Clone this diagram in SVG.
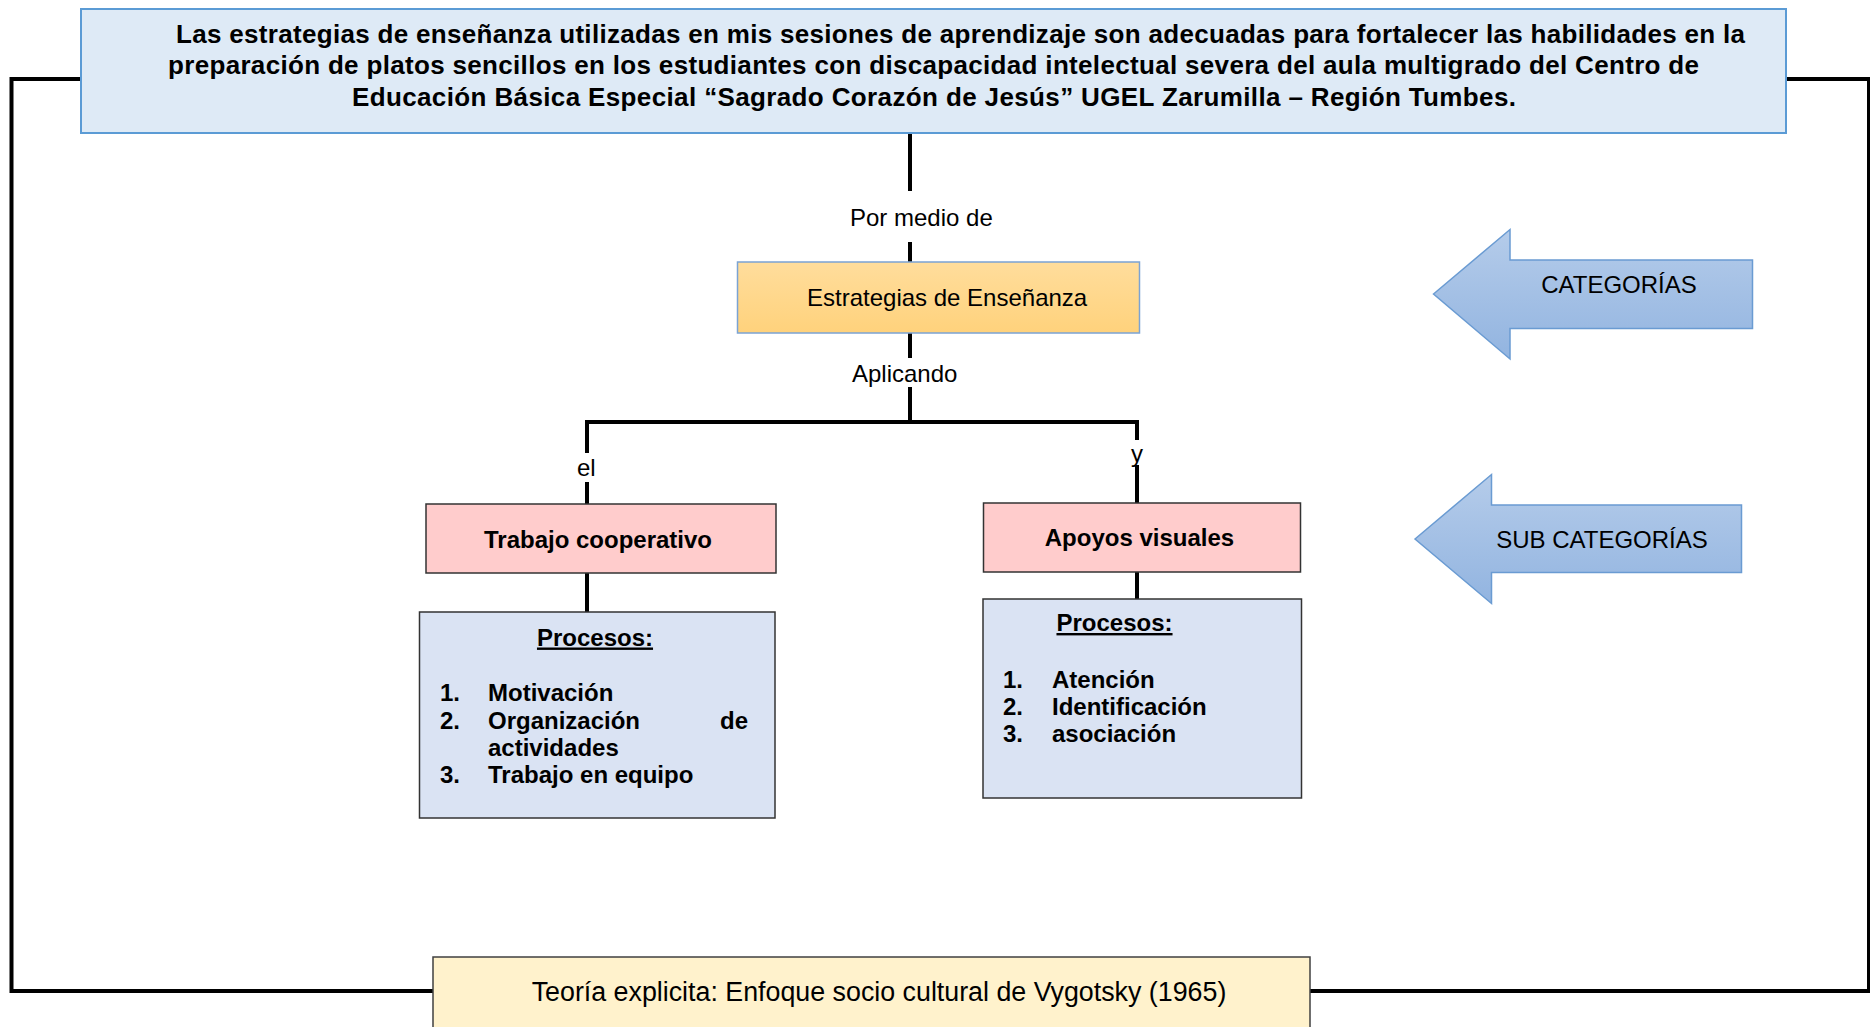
<svg xmlns="http://www.w3.org/2000/svg" width="1870" height="1027" viewBox="0 0 1870 1027">
<defs>
<linearGradient id="gOrange" x1="0" y1="0" x2="0" y2="1">
<stop offset="0" stop-color="#FFDD9C"/>
<stop offset="1" stop-color="#FFD27C"/>
</linearGradient>
<linearGradient id="gBlue" x1="0" y1="0" x2="0" y2="1">
<stop offset="0" stop-color="#B5CCEA"/>
<stop offset="1" stop-color="#92B4E0"/>
</linearGradient>
<style>
.t{font-family:"Liberation Sans",Arial,sans-serif;fill:#000}
.r{font-size:24px}
.b{font-size:24px;font-weight:bold}
.h{font-size:26px;font-weight:bold}
.u{text-decoration:underline}
.conn{stroke:#000;stroke-width:4;fill:none}
.pink{fill:#FFCCCC;stroke:#333;stroke-width:1.5}
.proc{fill:#DAE3F3;stroke:#333;stroke-width:1.5}
.arrow{fill:url(#gBlue);stroke:#6A9BD2;stroke-width:1.5}
</style>
</defs>
<rect width="1870" height="1027" fill="#fff"/>

<g id="connectors">
<path class="conn" d="M81,79 H11.5 V991 H433"/>
<path class="conn" d="M1786,79 H1869 V991 H1310"/>
<line class="conn" x1="910" y1="133" x2="910" y2="191"/>
<line class="conn" x1="910" y1="242" x2="910" y2="262"/>
<line class="conn" x1="910" y1="333" x2="910" y2="358"/>
<line class="conn" x1="910" y1="387" x2="910" y2="422"/>
<path class="conn" d="M587,453 V422 H1137 V440"/>
<line class="conn" x1="587" y1="482" x2="587" y2="504"/>
<line class="conn" x1="1137" y1="465" x2="1137" y2="503"/>
<line class="conn" x1="587" y1="573" x2="587" y2="612"/>
<line class="conn" x1="1137" y1="572" x2="1137" y2="599"/>
<text class="t r" x="850" y="226">Por medio de</text>
<text class="t r" x="852" y="382">Aplicando</text>
<text class="t r" x="577" y="476">el</text>
<text class="t r" x="1131" y="462">y</text>
</g>

<g id="title">
<rect x="81" y="9" width="1705" height="124" fill="#DEEAF6" stroke="#5B9BD5" stroke-width="2"/>
<text class="t h" x="176" y="43" textLength="1569">Las estrategias de enseñanza utilizadas en mis sesiones de aprendizaje son adecuadas para fortalecer las habilidades en la</text>
<text class="t h" x="168" y="74" textLength="1531">preparación de platos sencillos en los estudiantes con discapacidad intelectual severa del aula multigrado del Centro de</text>
<text class="t h" x="352" y="105.5" textLength="1164">Educación Básica Especial “Sagrado Corazón de Jesús” UGEL Zarumilla – Región Tumbes.</text>
</g>

<g id="estrategias">
<rect x="737.5" y="262" width="402" height="71" fill="url(#gOrange)" stroke="#7BA3D4" stroke-width="1.5"/>
<text class="t r" x="807" y="306">Estrategias de Enseñanza</text>
</g>

<g id="trabajo">
<rect class="pink" x="426" y="504" width="350" height="69"/>
<text class="t b" x="598" y="548" text-anchor="middle">Trabajo cooperativo</text>
</g>

<g id="apoyos">
<rect class="pink" x="983.5" y="503" width="317" height="69"/>
<text class="t b" x="1139.5" y="546" text-anchor="middle">Apoyos visuales</text>
</g>

<g id="procesos-trabajo">
<rect class="proc" x="419.5" y="612" width="355.5" height="206"/>
<text class="t b u" x="595" y="645.5" text-anchor="middle">Procesos:</text>
<text class="t b" x="440" y="700.5">1.</text>
<text class="t b" x="488" y="700.5">Motivación</text>
<text class="t b" x="440" y="728.5">2.</text>
<text class="t b" x="488" y="728.5">Organización</text>
<text class="t b" x="748" y="728.5" text-anchor="end">de</text>
<text class="t b" x="488" y="755.5">actividades</text>
<text class="t b" x="440" y="783">3.</text>
<text class="t b" x="488" y="783">Trabajo en equipo</text>
</g>

<g id="procesos-apoyos">
<rect class="proc" x="983" y="599" width="318.5" height="199"/>
<text class="t b u" x="1114.5" y="631" text-anchor="middle">Procesos:</text>
<text class="t b" x="1003" y="687.5">1.</text>
<text class="t b" x="1052" y="687.5">Atención</text>
<text class="t b" x="1003" y="714.5">2.</text>
<text class="t b" x="1052" y="714.5">Identificación</text>
<text class="t b" x="1003" y="742">3.</text>
<text class="t b" x="1052" y="742">asociación</text>
</g>

<g id="categorias">
<polygon class="arrow" points="1433.5,294 1510,229.5 1510,260 1752.5,260 1752.5,328.5 1510,328.5 1510,359"/>
<text class="t r" x="1619" y="293" text-anchor="middle">CATEGORÍAS</text>
</g>

<g id="subcategorias">
<polygon class="arrow" points="1415,539 1491.5,474.5 1491.5,505 1741.5,505 1741.5,572.5 1491.5,572.5 1491.5,603.5"/>
<text class="t r" x="1602" y="548" text-anchor="middle">SUB CATEGORÍAS</text>
</g>

<g id="teoria">
<rect x="433" y="957" width="877" height="80" fill="#FFF2CC" stroke="#404040" stroke-width="1.5"/>
<text class="t" style="font-size:26.8px" x="879" y="1001" text-anchor="middle">Teoría explicita: Enfoque socio cultural de Vygotsky (1965)</text>
</g>
</svg>
